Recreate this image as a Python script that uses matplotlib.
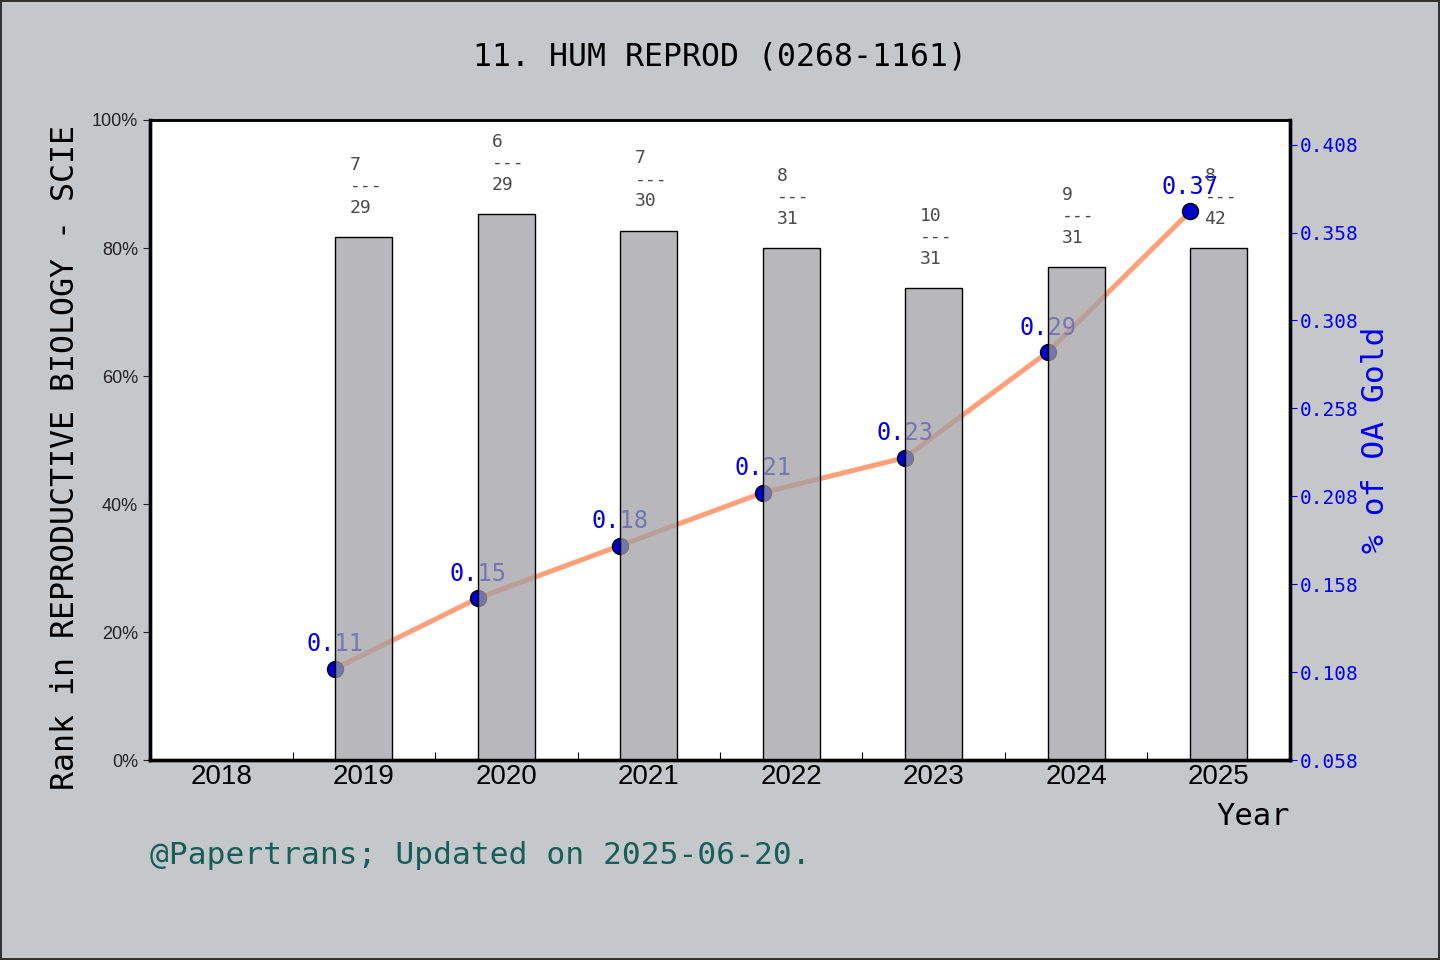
import matplotlib
matplotlib.use("Agg")
import matplotlib.pyplot as plt
from matplotlib.ticker import FixedLocator, FuncFormatter

# data
years = [2019, 2020, 2021, 2022, 2023, 2024, 2025]
rank_share = [0.817, 0.853, 0.827, 0.800, 0.7375, 0.770, 0.800]
ranks = [7, 6, 7, 8, 10, 9, 8]
totals = [29, 29, 30, 31, 31, 31, 42]
oa_gold = [0.11, 0.15, 0.18, 0.21, 0.23, 0.29, 0.37]
x_ticks = [2018, 2019, 2020, 2021, 2022, 2023, 2024, 2025]
oa_ticks = [0.058, 0.108, 0.158, 0.208, 0.258, 0.308, 0.358, 0.408]

mono = "DejaVu Sans Mono"
bg = "#c5c8cb"
blue = "#0000ee"

fig = plt.figure(figsize=(14.4, 9.6), dpi=100, facecolor=bg,
                 edgecolor="#333333", linewidth=1.5)
ax_line = fig.add_axes([0.1042, 0.2083, 0.7916, 0.6667])
ax_bar = ax_line.twinx()
# bars sit on top of the line (semi transparent), like the original
ax_bar.set_zorder(ax_line.get_zorder() + 1)
ax_bar.patch.set_visible(False)
ax_line.set_facecolor("white")

# line on the right scale
ax_line.plot([y - 0.2 for y in years], oa_gold, color="#ffa07a", linewidth=3.6,
             marker="o", markersize=11.5, markerfacecolor="#0000cc",
             markeredgecolor="black", markeredgewidth=1.0, zorder=3)
for yr, v in zip(years, oa_gold):
    ax_line.annotate(f"{v:.2f}", (yr - 0.2, v), xytext=(0, 9),
                     textcoords="offset points", ha="center", va="bottom",
                     fontsize=17, color=blue, family=mono)
ax_line.set_ylim(0.058, 0.422)
ax_line.set_xlim(2017.5, 2025.5)

# bars on the left percent scale
ax_bar.bar(years, rank_share, width=0.4, facecolor=(0.623, 0.625, 0.64, 0.74),
           edgecolor="black", linewidth=1.0)
for yr, h, r, n in zip(years, rank_share, ranks, totals):
    ax_bar.text(yr - 0.1, h + 0.032, f"{r}\n---\n{n}", ha="left", va="bottom",
                fontsize=13, color="#4a4a4a", linespacing=1.25, family=mono)
ax_bar.set_ylim(0, 1)

# the bar axes holds the left ticks, the line axes the right ones
ax_bar.yaxis.set_ticks_position("left")
ax_bar.yaxis.set_label_position("left")
ax_bar.set_yticks([0, 0.2, 0.4, 0.6, 0.8, 1.0])
ax_bar.yaxis.set_major_formatter(FuncFormatter(lambda v, p: f"{v * 100:.0f}%"))
ax_bar.tick_params(axis="y", direction="out", length=5, width=0.8,
                   labelsize=13, colors="#222222", labelfontfamily="Liberation Sans")
ax_bar.set_ylabel("Rank in REPRODUCTIVE BIOLOGY - SCIE", fontsize=22.8,
                  family=mono, color="black")
ax_bar.yaxis.set_label_coords(-0.061, 0.473)

ax_line.yaxis.set_ticks_position("right")
ax_line.yaxis.set_label_position("right")
ax_line.set_yticks(oa_ticks)
ax_line.set_yticklabels([f"{t:.3f}" for t in oa_ticks])
ax_line.tick_params(axis="y", direction="out", length=5, width=0.8, pad=2,
                    labelsize=14, colors=blue, labelfontfamily=mono)
ax_line.set_ylabel("% of OA Gold", fontsize=22.5, family=mono, color=blue,
                   rotation=90)
ax_line.yaxis.set_label_coords(1.062, 0.5)

ax_line.xaxis.set_major_locator(FixedLocator(x_ticks))
ax_line.xaxis.set_minor_locator(FixedLocator([t + 0.5 for t in x_ticks[:-1]]))
ax_line.tick_params(axis="x", which="major", length=0, labelsize=20, pad=3,
                    labelfontfamily="Liberation Sans", colors="black")
ax_line.tick_params(axis="x", which="minor", direction="in", length=6, width=0.8)
ax_line.set_xticklabels([str(t) for t in x_ticks])

for a in (ax_line, ax_bar):
    for side in ("left", "bottom", "right"):
        a.spines[side].set_linewidth(2.4)
    a.spines["top"].set_linewidth(1.8)

fig.text(0.5, 0.941, "11. HUM REPROD (0268-1161)", ha="center", va="center",
         fontsize=22.7, family=mono, color="black")
fig.text(0.8958, 0.149, "Year", ha="right", va="center", fontsize=22,
         family=mono, color="black")
fig.text(0.1042, 0.109, "@Papertrans; Updated on 2025-06-20.", ha="left",
         va="center", fontsize=22.5, family=mono, color="#175e57")

fig.savefig("out.png", dpi=100, facecolor=bg, edgecolor="#333333")
